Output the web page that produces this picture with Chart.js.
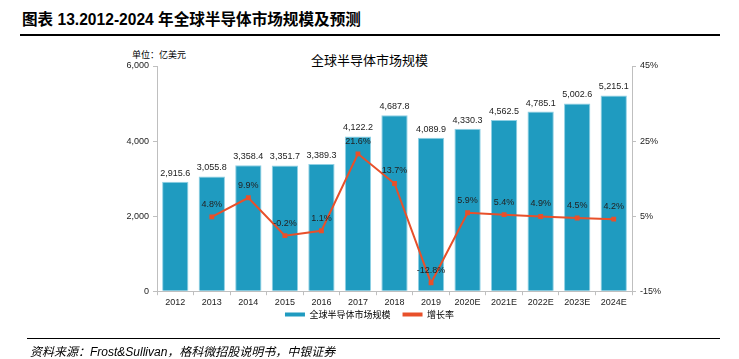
<!DOCTYPE html>
<html>
<head>
<meta charset="utf-8">
<script src="https://cdn.jsdelivr.net/npm/chart.js@4.4.0/dist/chart.umd.min.js"></script>
<style>
  body{margin:0;width:739px;height:359px;background:#fff;position:relative;overflow:hidden;font-family:"Noto Sans CJK SC",Arial,sans-serif;}
  .hdr{position:absolute;left:22px;top:7px;font-size:15.6px;font-weight:bold;color:#000;font-family:"Liberation Sans","Noto Sans CJK SC",sans-serif;}
  .rule{position:absolute;left:20px;width:700px;background:#000;}
  .src{position:absolute;left:30px;top:342px;font-size:12px;font-style:italic;color:#000;font-family:"Liberation Sans","Noto Sans CJK SC",sans-serif;}
  .unit{position:absolute;left:132px;top:48px;font-size:9px;color:#000;}
  .ttl{position:absolute;left:0;width:739px;text-align:center;top:50px;font-size:13px;color:#000;}
  #wrap{position:absolute;left:0;top:40px;width:739px;height:299px;}
</style>
</head>
<body>
<div class="hdr">图表 13.2012-2024 年全球半导体市场规模及预测</div>
<div class="rule" style="top:34px;height:1.5px"></div>
<div class="unit">单位：亿美元</div>
<div class="ttl">全球半导体市场规模</div>
<div id="wrap"><canvas id="c"></canvas></div>
<div class="rule" style="top:338px;height:1px;left:27px;width:693px"></div>
<div class="src">资料来源：Frost&amp;Sullivan，格科微招股说明书，中银证券</div>
<script>
const years = ['2012','2013','2014','2015','2016','2017','2018','2019','2020E','2021E','2022E','2023E','2024E'];
const marketSize = [2915.6,3055.8,3358.4,3351.7,3389.3,4122.2,4687.8,4089.9,4330.3,4562.5,4785.1,5002.6,5215.1];
const growth = [null,4.8,9.9,-0.2,1.1,21.6,13.7,-12.8,5.9,5.4,4.9,4.5,4.2];

const labelPlugin = {
  id:'labels',
  afterDatasetsDraw(chart){
    const ctx = chart.ctx;
    ctx.save();
    ctx.font = '9px "Liberation Sans", Arial, sans-serif';
    ctx.fillStyle = '#222';
    ctx.textAlign = 'center';
    ctx.textBaseline = 'bottom';
    chart.getDatasetMeta(0).data.forEach((b,i)=>{
      ctx.fillText(marketSize[i].toLocaleString('en-US',{minimumFractionDigits:1}), b.x, b.y-4);
    });
    chart.getDatasetMeta(1).data.forEach((p,i)=>{
      if(growth[i]==null) return;
      ctx.fillText(growth[i].toFixed(1)+'%', p.x, p.y-8);
    });
    ctx.restore();
  }
};

const tickFont = {family:'"Liberation Sans", Arial, sans-serif', size:9};
new Chart(document.getElementById('c'), {
  type:'bar',
  data:{
    labels: years,
    datasets:[
      {type:'bar', label:'全球半导体市场规模', data:marketSize, backgroundColor:'#1f9bc0', borderColor:'#8fd0e4', borderWidth:{top:1,left:1,right:1,bottom:0}, barPercentage:0.72, categoryPercentage:1, yAxisID:'y', order:2},
      {type:'line', label:'增长率', data:growth, borderColor:'#e8502a', backgroundColor:'#e8502a', borderWidth:2, pointRadius:2, pointStyle:'rect', tension:0, yAxisID:'y1', order:1}
    ]
  },
  options:{
    responsive:true, maintainAspectRatio:false, animation:false,
    layout:{padding:{top:26,left:0,right:0,bottom:10}},
    plugins:{
      title:{display:false},
      tooltip:{enabled:false},
      legend:{position:'bottom', labels:{font:{family:'"Noto Sans CJK SC", sans-serif', size:9}, color:'#333', boxWidth:20, boxHeight:4, padding:4,
        generateLabels(chart){
          return [
            {text:'全球半导体市场规模    ', fillStyle:'#1f9bc0', strokeStyle:'#1f9bc0', lineWidth:0, datasetIndex:0},
            {text:'增长率', fillStyle:'#e8502a', strokeStyle:'#e8502a', lineWidth:0, datasetIndex:1}
          ];
        }}}
    },
    scales:{
      x:{grid:{display:true, drawOnChartArea:false, tickLength:4, color:'#bfbfbf', offset:true}, border:{color:'#bfbfbf'}, ticks:{font:tickFont, color:'#222', padding:2, maxRotation:0},
         afterFit(s){ s.height -= 4; }},
      y:{position:'left', min:0, max:6000, ticks:{stepSize:2000, font:tickFont, color:'#222', padding:4, callback:v=>v.toLocaleString('en-US')},
         grid:{display:true, drawOnChartArea:false, tickLength:4, color:'#bfbfbf'}, border:{color:'#bfbfbf'},
         afterFit(s){ s.width = 157; }},
      y1:{position:'right', min:-15, max:45, ticks:{stepSize:20, font:tickFont, color:'#222', padding:4, callback:v=>v+'%'},
         grid:{display:true, drawOnChartArea:false, tickLength:4, color:'#bfbfbf'}, border:{color:'#bfbfbf'},
         afterFit(s){ s.width = 107; }}
    }
  },
  plugins:[labelPlugin]
});
</script>
</body>
</html>
